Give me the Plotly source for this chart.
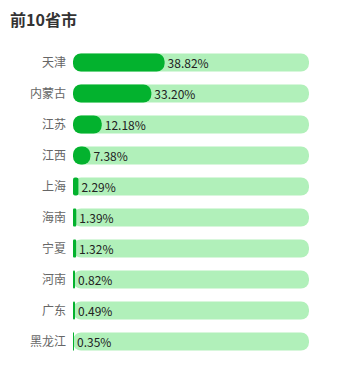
import plotly.graph_objects as go

provinces = ["天津", "内蒙古", "江苏", "江西", "上海", "海南", "宁夏", "河南", "广东", "黑龙江"]
shares = [38.82, 33.20, 12.18, 7.38, 2.29, 1.39, 1.32, 0.82, 0.49, 0.35]
full = [100] * len(provinces)
zeros = [0] * len(provinces)
labels = [f"{v:.2f}%" for v in shares]

font = "Noto Sans CJK SC"
bg_color = "#b1f0ba"
fg_color = "#03b22e"
bw = 0.58

fig = go.Figure()
fig.add_trace(go.Bar(
    y=provinces, x=full, base=zeros, orientation="h",
    marker=dict(color=bg_color, line=dict(width=0)),
    width=bw, hoverinfo="skip", showlegend=False,
))
fig.add_trace(go.Bar(
    y=provinces, x=shares, base=zeros, orientation="h",
    marker=dict(color=fg_color, line=dict(width=0)),
    width=bw, text=labels, textposition="outside",
    textfont=dict(family=font, size=12, color="#222"),
    cliponaxis=False, showlegend=False,
))

fig.update_layout(
    width=346, height=367,
    margin=dict(l=73, r=37, t=47, b=10),
    paper_bgcolor="white", plot_bgcolor="white",
    barmode="overlay", barcornerradius=9,
    title=dict(text="<b>前10省市</b>", x=10 / 346, xref="container", xanchor="left",
               y=1, yref="container", yanchor="top", pad=dict(t=15),
               font=dict(family=font, size=16, color="#333")),
    xaxis=dict(range=[0, 100], visible=False, fixedrange=True),
    yaxis=dict(autorange="reversed", showgrid=False, zeroline=False, showline=False,
               ticks="", ticklabelstandoff=6,
               tickfont=dict(family=font, size=12, color="#666")),
    font=dict(family=font),
)

fig.write_html("out.html")
